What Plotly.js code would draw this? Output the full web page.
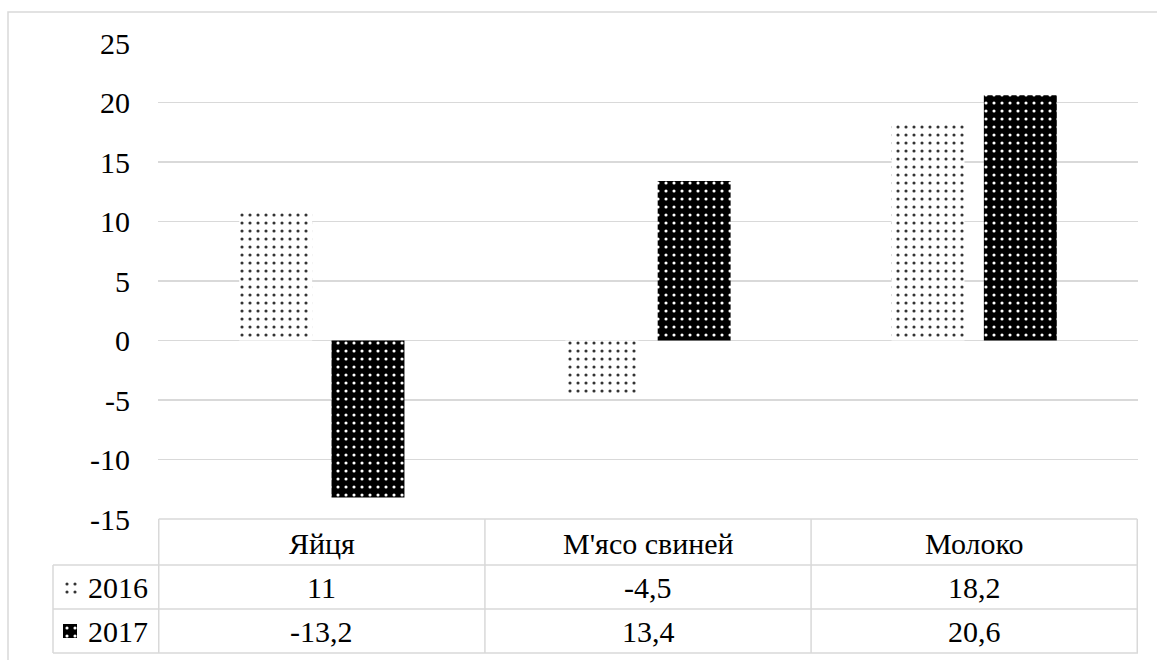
<!DOCTYPE html>
<html>
<head>
<meta charset="utf-8">
<script src="https://cdn.plot.ly/plotly-3.0.1.min.js"></script>
<style>html,body{margin:0;padding:0;background:#fff;} #chart text{font-family:'Liberation Serif' !important;}</style>
</head>
<body>
<div id="chart" style="width:1157px;height:660px"></div>
<script>
// ---- data ----
const categories = ["Яйця", "М'ясо свиней", "Молоко"];
const seriesNames = ["2016", "2017"];
const values2016 = [11, -4.5, 18.2];
const values2017 = [-13.2, 13.4, 20.6];
const yTickValues = [-15, -10, -5, 0, 5, 10, 15, 20, 25];
const yTickLabels = ["-15", "-10", "-5", "0", "5", "10", "15", "20", "25"];

// ---- styling ----
const chartW = 1157, chartH = 660;
const textSize = 30;
const gridColor = "#d9d9d9";
const toPaperX = v => v / chartW;
const toPaperY = v => 1 - v / chartH;

const pat2016 = {shape: ".", bgcolor: "#ffffff", fgcolor: "#333333", size: 8, solidity: 0.12, fillmode: "replace"};
const pat2017 = {shape: ".", bgcolor: "#000000", fgcolor: "#ffffff", size: 8, solidity: 0.12, fillmode: "replace"};

const fmt = v => String(v).replace(".", ",");

const traces = [
  {type: "bar", name: seriesNames[0], x: categories, y: values2016, xaxis: "x", yaxis: "y",
   marker: {color: "#ffffff", line: {width: 0}, pattern: pat2016}, hoverinfo: "skip"},
  {type: "bar", name: seriesNames[1], x: categories, y: values2017, xaxis: "x", yaxis: "y",
   marker: {color: "#000000", line: {width: 0}, pattern: pat2017}, hoverinfo: "skip"},
  // legend keys in the data table
  {type: "bar", x: [seriesNames[0]], y: [1], width: [1], xaxis: "x2", yaxis: "y2",
   marker: {color: "#ffffff", line: {width: 0}, pattern: pat2016}, hoverinfo: "skip"},
  {type: "bar", x: [seriesNames[1]], y: [1], width: [1], xaxis: "x3", yaxis: "y3",
   marker: {color: "#000000", line: {width: 0}, pattern: pat2017}, hoverinfo: "skip"}
];

const shapes = [];
const lineStyle = {color: gridColor, width: 1.5};
shapes.push({type: "rect", xref: "paper", yref: "paper", x0: toPaperX(8), x1: toPaperX(1170), y0: toPaperY(680), y1: toPaperY(12), line: lineStyle, layer: "below"});
shapes.push({type: "line", xref: "x", yref: "paper", x0: -0.5, x1: categories.length - 0.5, y0: toPaperY(519), y1: toPaperY(519), line: lineStyle});
[565, 609, 653].forEach(yy => {
  shapes.push({type: "line", xref: "paper", yref: "paper", x0: toPaperX(53), x1: toPaperX(1138), y0: toPaperY(yy), y1: toPaperY(yy), line: lineStyle});
});
shapes.push({type: "line", xref: "paper", yref: "paper", x0: toPaperX(53), x1: toPaperX(53), y0: toPaperY(565), y1: toPaperY(653), line: lineStyle});
for (let i = 0; i <= categories.length; i++) {
  shapes.push({type: "line", xref: "x", yref: "paper", x0: i - 0.5, x1: i - 0.5, y0: toPaperY(519), y1: toPaperY(653), line: lineStyle});
}

const annotations = [];
const mkFont = () => ({family: "Liberation Serif", size: textSize});
categories.forEach((c, i) => {
  annotations.push({xref: "x", yref: "paper", x: c, y: toPaperY(543), text: c, showarrow: false, font: mkFont(), xanchor: "center", yanchor: "middle"});
  annotations.push({xref: "x", yref: "paper", x: c, y: toPaperY(587), text: fmt(values2016[i]), showarrow: false, font: mkFont(), xanchor: "center", yanchor: "middle"});
  annotations.push({xref: "x", yref: "paper", x: c, y: toPaperY(631), text: fmt(values2017[i]), showarrow: false, font: mkFont(), xanchor: "center", yanchor: "middle"});
});
annotations.push({xref: "paper", yref: "paper", x: toPaperX(86), y: toPaperY(587), text: seriesNames[0], showarrow: false, font: mkFont(), xanchor: "left", yanchor: "middle"});
annotations.push({xref: "paper", yref: "paper", x: toPaperX(86), y: toPaperY(631), text: seriesNames[1], showarrow: false, font: mkFont(), xanchor: "left", yanchor: "middle"});

const hiddenAxis = {visible: false, fixedrange: true, showgrid: false, zeroline: false};

const layout = {
  width: chartW, height: chartH,
  margin: {l: 0, r: 0, t: 0, b: 0, pad: 0},
  showlegend: false,
  barmode: "group", bargap: 0.434, bargroupgap: 0.21,
  font: {family: "Liberation Serif", size: textSize, color: "#000000"},
  xaxis: {domain: [toPaperX(158), toPaperX(1138)], type: "category", showticklabels: false, showgrid: false, zeroline: false, showline: false, ticks: "", fixedrange: true},
  yaxis: {domain: [toPaperY(519), toPaperY(43)], range: [-15, 25], tickvals: yTickValues, ticktext: yTickLabels,
          showgrid: true, gridcolor: gridColor, gridwidth: 1.5, zeroline: true, zerolinecolor: gridColor, zerolinewidth: 1.5,
          showline: false, ticks: "", ticklabelstandoff: 27, fixedrange: true},
  xaxis2: Object.assign({domain: [toPaperX(63), toPaperX(77)], type: "category", range: [-0.5, 0.5], anchor: "y2"}, hiddenAxis),
  yaxis2: Object.assign({domain: [toPaperY(594), toPaperY(580)], range: [0, 1], anchor: "x2"}, hiddenAxis),
  xaxis3: Object.assign({domain: [toPaperX(63), toPaperX(77)], type: "category", range: [-0.5, 0.5], anchor: "y3"}, hiddenAxis),
  yaxis3: Object.assign({domain: [toPaperY(638), toPaperY(624)], range: [0, 1], anchor: "x3"}, hiddenAxis),
  shapes: shapes,
  annotations: annotations
};

Plotly.newPlot("chart", traces, layout, {staticPlot: true});
</script>
</body>
</html>
